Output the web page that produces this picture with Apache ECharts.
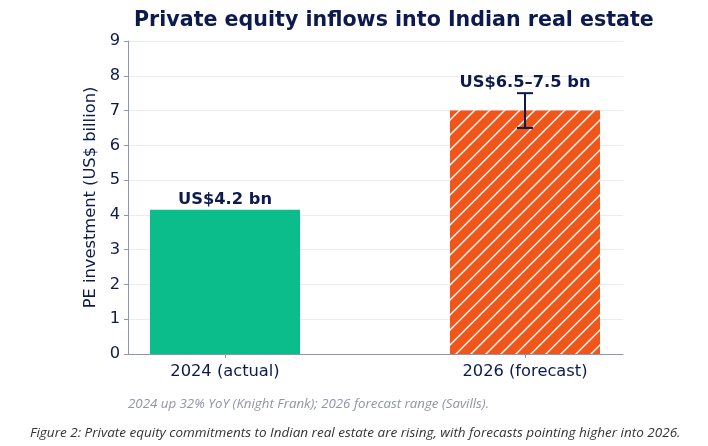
<!DOCTYPE html>
<html lang="en">
<head>
<meta charset="UTF-8">
<title>PE inflows</title>
<script src="https://cdn.jsdelivr.net/npm/echarts@6/dist/echarts.min.js"></script>
<style>
  html, body { margin: 0; padding: 0; background: #fff; }
  #chart { width: 708px; height: 446px; }
</style>
</head>
<body>
<div id="chart"></div>
<script>
// data
var categories = ['2024 (actual)', '2026 (forecast)'];
var positions = [0, 1];
var values = [4.15, 7.0];
var barLabels = ['US$4.2 bn', 'US$6.5\u20137.5 bn'];
var rangeLow = [null, 6.5];
var rangeHigh = [null, 7.5];
var yTicks = [0, 1, 2, 3, 4, 5, 6, 7, 8, 9];

var navy = '#0c1a4e';
var font = 'DejaVu Sans';

// white diagonal hatch on orange
function hatch() {
  var s = 15;
  var c = document.createElement('canvas');
  c.width = s; c.height = s;
  var g = c.getContext('2d');
  g.fillStyle = '#f0561a';
  g.fillRect(0, 0, s, s);
  g.strokeStyle = '#ffffff';
  g.lineWidth = 1.4;
  g.beginPath();
  g.moveTo(0, s); g.lineTo(s, 0);
  g.moveTo(-s / 2, s / 2); g.lineTo(s / 2, -s / 2);
  g.moveTo(s / 2, s * 1.5); g.lineTo(s * 1.5, s / 2);
  g.stroke();
  return { image: c, repeat: 'repeat' };
}

var barData = positions.map(function (p, i) {
  var item = { value: [p, values[i]] };
  if (i === 0) {
    item.itemStyle = { color: '#0bbd8a' };
    item.label = { distance: 2 };
  } else {
    item.itemStyle = { color: hatch() };
    item.label = { distance: 2, offset: [0, -(rangeHigh[i] - values[i]) * 34.8] };
  }
  return item;
});

var errData = [];
positions.forEach(function (p, i) {
  if (rangeLow[i] != null) errData.push([p, rangeLow[i], rangeHigh[i]]);
});

var chart = echarts.init(document.getElementById('chart'));
chart.setOption({
  animation: false,
  textStyle: { fontFamily: font },
  title: {
    text: 'Private equity inflows into Indian real estate',
    left: 129, top: 5,
    textStyle: { fontSize: 20.6, fontWeight: 'bold', color: navy, fontFamily: font }
  },
  grid: { left: 128, right: 85, top: 41, bottom: 92 },
  xAxis: {
    type: 'value',
    min: -0.3233, max: 1.3267,
    splitLine: { show: false },
    axisLine: { show: true, onZero: false, lineStyle: { color: '#8c96b2', width: 1 } },
    axisTick: { show: true, length: 4, customValues: positions, lineStyle: { color: '#8c96b2' } },
    axisLabel: {
      customValues: positions,
      fontSize: 16.3, color: navy, margin: 10,
      formatter: function (v) { return categories[Math.round(v)]; }
    }
  },
  yAxis: {
    type: 'value',
    min: yTicks[0], max: yTicks[yTicks.length - 1], interval: 1,
    name: 'PE investment (US$ billion)',
    nameLocation: 'middle', nameGap: 20,
    nameTextStyle: { fontSize: 16.3, color: navy },
    axisLine: { show: true, onZero: false, lineStyle: { color: '#8c96b2', width: 1 } },
    axisTick: { show: true, length: 4, lineStyle: { color: '#8c96b2' } },
    axisLabel: { fontSize: 16.3, color: navy, margin: 8, padding: [3, 0, 0, 0] },
    splitLine: { show: true, lineStyle: { color: '#e9ecf3', width: 1 } }
  },
  series: [
    {
      type: 'bar',
      barWidth: 150,
      data: barData,
      label: {
        show: true, position: 'top',
        fontSize: 16.3, fontWeight: 'bold', color: navy,
        formatter: function (p) { return barLabels[p.dataIndex]; }
      }
    },
    {
      type: 'custom',
      data: errData,
      z: 5,
      renderItem: function (params, api) {
        var x = api.value(0);
        var lo = api.coord([x, api.value(1)]);
        var hi = api.coord([x, api.value(2)]);
        var cap = 8;
        var st = { stroke: navy, lineWidth: 2 };
        return {
          type: 'group',
          children: [
            { type: 'line', shape: { x1: lo[0], y1: lo[1], x2: hi[0], y2: hi[1] }, style: st },
            { type: 'line', shape: { x1: lo[0] - cap, y1: lo[1], x2: lo[0] + cap, y2: lo[1] }, style: st },
            { type: 'line', shape: { x1: hi[0] - cap, y1: hi[1], x2: hi[0] + cap, y2: hi[1] }, style: st }
          ]
        };
      }
    }
  ],
  graphic: [
    {
      type: 'text', left: 128, top: 398,
      style: {
        text: '2024 up 32% YoY (Knight Frank); 2026 forecast range (Savills).',
        fontSize: 13.3, fontStyle: 'italic', fill: '#8d95a8', fontFamily: 'Open Sans'
      }
    },
    {
      type: 'text', left: 30, top: 426,
      style: {
        text: 'Figure 2: Private equity commitments to Indian real estate are rising, with forecasts pointing higher into 2026.',
        fontSize: 13.5, fontStyle: 'italic', fill: '#333333', fontFamily: 'Open Sans'
      }
    }
  ]
});
</script>
</body>
</html>
